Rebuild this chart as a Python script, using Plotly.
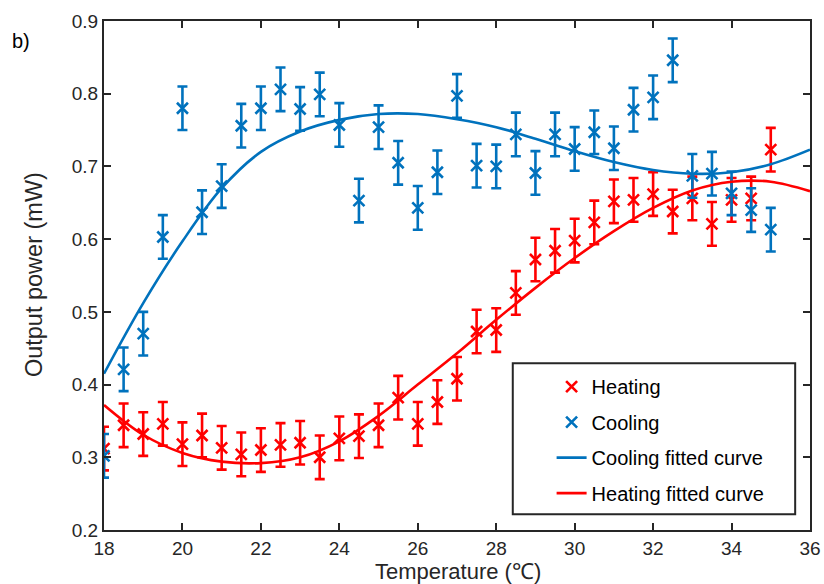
import plotly.graph_objects as go

# Measured data
temp = [18, 18.5, 19, 19.5, 20, 20.5, 21, 21.5, 22, 22.5, 23, 23.5, 24, 24.5, 25, 25.5,
        26, 26.5, 27, 27.5, 28, 28.5, 29, 29.5, 30, 30.5, 31, 31.5, 32, 32.5, 33, 33.5,
        34, 34.5, 35]
heating = [0.312, 0.344, 0.332, 0.346, 0.318, 0.330, 0.313, 0.304, 0.310, 0.317, 0.320, 0.300,
           0.326, 0.329, 0.344, 0.382, 0.346, 0.376, 0.408, 0.473, 0.475, 0.526, 0.572, 0.584,
           0.598, 0.623, 0.652, 0.654, 0.662, 0.638, 0.656, 0.621, 0.654, 0.656, 0.723]
cooling = [0.302, 0.421, 0.470, 0.603, 0.780, 0.637, 0.673, 0.756, 0.780, 0.806, 0.779, 0.799,
           0.757, 0.653, 0.754, 0.705, 0.643, 0.692, 0.797, 0.701, 0.700, 0.744, 0.691, 0.744,
           0.724, 0.747, 0.725, 0.778, 0.795, 0.846, 0.687, 0.690, 0.663, 0.640, 0.613]
err = 0.03

# Fitted curves
fit_t = [18, 19, 20, 21, 22, 23, 24, 25, 26, 27, 28, 29, 30, 31, 32, 33, 34, 35, 36]
cool_fit = [0.415, 0.512, 0.597, 0.670, 0.720, 0.748, 0.764, 0.772, 0.772, 0.765, 0.754,
            0.738, 0.721, 0.706, 0.695, 0.690, 0.692, 0.703, 0.723]
heat_fit = [0.372, 0.331, 0.306, 0.294, 0.292, 0.300, 0.322, 0.357, 0.400, 0.443, 0.489,
            0.533, 0.574, 0.611, 0.643, 0.667, 0.679, 0.679, 0.666]

BLUE = "#0072BD"
RED = "#FF0000"
INK = "#262626"
FONT = "Arial, Liberation Sans, sans-serif"

fig = go.Figure()

def pts(y, color, name, grp):
    return go.Scatter(
        x=temp, y=y, mode="markers", name=name, legendgroup=grp,
        marker=dict(symbol="x-thin", size=11, color=color,
                    line=dict(color=color, width=2.6)),
        error_y=dict(type="constant", value=err, color=color, thickness=2.6, width=5),
    )

fig.add_trace(pts(heating, RED, "Heating", "a"))
fig.add_trace(pts(cooling, BLUE, "Cooling", "b"))
fig.add_trace(go.Scatter(x=fit_t, y=cool_fit, mode="lines", name="Cooling fitted curve",
                         legendgroup="c", line=dict(color=BLUE, width=2.6, shape="spline")))
fig.add_trace(go.Scatter(x=fit_t, y=heat_fit, mode="lines", name="Heating fitted curve",
                         legendgroup="d", line=dict(color=RED, width=2.6, shape="spline")))

axis_common = dict(showline=True, linecolor=INK, linewidth=2, mirror="ticks",
                   ticks="inside", ticklen=7, tickwidth=2, tickcolor=INK,
                   showgrid=False, zeroline=False, automargin=False,
                   tickfont=dict(family=FONT, size=19, color=INK))

fig.update_xaxes(range=[18, 36], dtick=2, tick0=18, **axis_common)
fig.update_yaxes(range=[0.2, 0.9], dtick=0.1, tick0=0.2, tickformat=".1f", **axis_common)

# Axis titles as annotations for precise placement
fig.add_annotation(text="Temperature (℃)", xref="paper", yref="paper", x=0.502, y=-0.081,
                   xanchor="center", yanchor="middle", showarrow=False,
                   font=dict(family=FONT, size=22, color=INK))
fig.add_annotation(text="Output power (mW)", xref="paper", yref="paper", x=-0.099, y=0.501,
                   xanchor="center", yanchor="middle", showarrow=False, textangle=-90,
                   font=dict(family=FONT, size=23.5, color=INK))

fig.add_shape(type="rect", xref="paper", yref="paper",
              x0=0.579, x1=0.979, y0=0.031, y1=0.3275,
              line=dict(color=INK, width=2), fillcolor="white", layer="below")

fig.add_annotation(text="b)", xref="paper", yref="paper", x=-0.117, y=0.96,
                   xanchor="center", yanchor="middle", showarrow=False,
                   font=dict(family=FONT, size=20, color="black"))

fig.update_layout(
    width=824, height=584,
    margin=dict(l=104, r=14, t=21, b=54),
    paper_bgcolor="white", plot_bgcolor="white",
    showlegend=True,
    legend=dict(x=0.634, y=0.32, xanchor="left", yanchor="top",
                bgcolor="rgba(0,0,0,0)", borderwidth=0,
                tracegroupgap=6.5,
                font=dict(family=FONT, size=20, color="black")),
)

fig.write_html("out.html",
               config={"displayModeBar": False},
               post_script="document.body.style.margin='0';document.body.style.overflow='hidden';")
